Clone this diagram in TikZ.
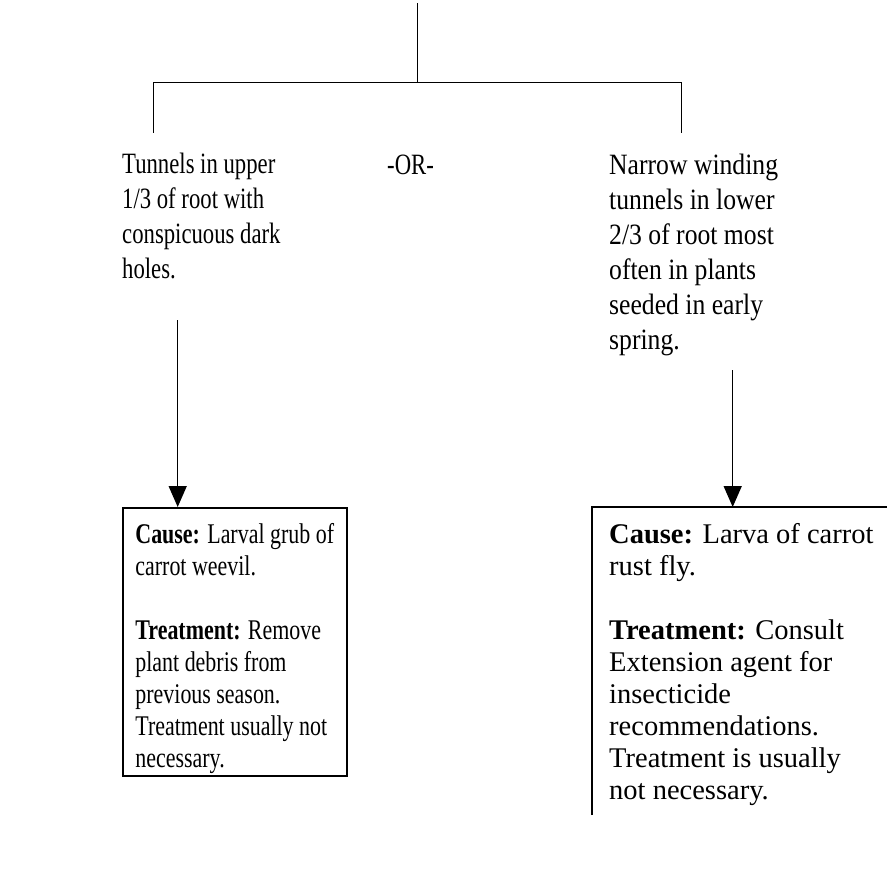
\documentclass[tikz,border=0pt]{standalone}
\usepackage{fontspec}
\setmainfont{Liberation Serif}[FakeStretch=0.77]
\newfontfamily\rtfont{Liberation Serif}[FakeStretch=0.87]
\newfontfamily\bxfont{Liberation Serif}
\usetikzlibrary{arrows.meta}
\tikzset{
  txt/.style={anchor=north west,inner sep=0pt,align=left,font=\fontsize{29.5}{35}\selectfont},
  nd_box/.style={anchor=north west,inner xsep=0pt,inner ysep=0pt,minimum width=224pt,align=left,font=\fontsize{28.5}{32}\selectfont},
  ln/.style={line width=1.5pt},
  arr/.style={-{Triangle[length=21pt,width=18pt]},line width=1.5pt},
}
\begin{document}
\begin{tikzpicture}[x=1pt,y=1pt]
\useasboundingbox (0,0) rectangle (887,-871);
\clip (0,0) rectangle (887,-871);
% tree
\coordinate (top) at (417.7,-3);
\coordinate (jn) at (417.7,-82.7);
\coordinate (hA) at (153.7,-82.7);
\coordinate (hB) at (681.7,-82.7);
\coordinate (dA) at (153.7,-132.7);
\coordinate (dB) at (681.7,-132.7);
\draw[ln] (top) -- (jn);
\draw[ln] (dA) -- (hA) -- (hB) -- (dB);
% choices
\node[txt] at (122,-149) (tunA) {\strut Tunnels in upper\\1/3 of root with\\conspicuous dark\\holes.};
\node[txt,anchor=base west] at (387,-174) (orTxt) {-OR-};
\node[txt,font=\fontsize{29.5}{35}\rtfont] at (609,-150) (tunB) {\strut Narrow winding\\tunnels in lower\\2/3 of root most\\often in plants\\seeded in early\\spring.};
% results
\node[nd_box,draw,line width=1.5pt,minimum height=268pt] at (122,-507) (causeA) {\rule{0pt}{34pt}\textbf{Cause:} Larval grub of\\carrot weevil.\\[32pt]\textbf{Treatment:} Remove\\plant debris from\\previous season.\\Treatment usually not\\necessary.};
\node[nd_box,font=\fontsize{28.5}{32}\bxfont,minimum height=300pt] at (609,-507) (causeB) {\rule{0pt}{34pt}\textbf{Cause:} Larva of carrot\\rust fly.\\[32pt]\textbf{Treatment:} Consult\\Extension agent for\\insecticide\\recommendations.\\Treatment is usually\\not necessary.};
\coordinate (bEnd) at (592,-815);
\coordinate (rEdge) at (890,-507);
\draw[ln] (bEnd) -- (bEnd |- causeB.north) -- (rEdge);
% arrows
\coordinate (sA) at (177.7,-320);
\coordinate (sB) at (732.7,-370);
\draw[arr] (sA) -- (sA |- causeA.north);
\draw[arr] (sB) -- (sB |- causeB.north);
\end{tikzpicture}
\end{document}
